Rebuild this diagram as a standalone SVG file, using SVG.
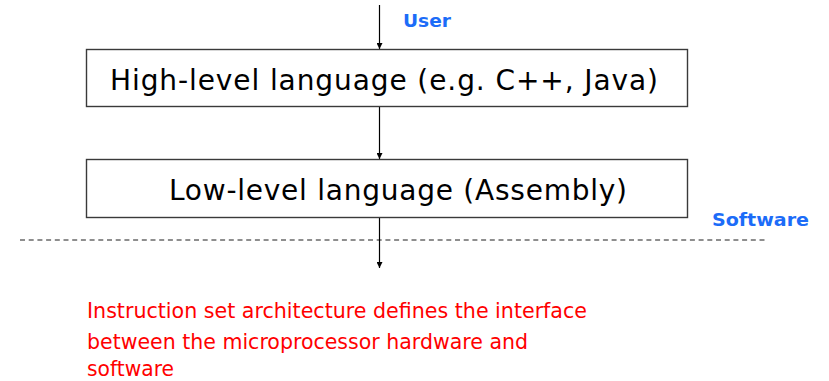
<svg xmlns="http://www.w3.org/2000/svg" width="829" height="381" viewBox="0 0 829 381">
  <style>
    .box { fill: #ffffff; stroke: #3a3a3a; stroke-width: 1.4; }
    .boxlabel { font-family: "DejaVu Sans", Verdana, sans-serif; font-size: 28px; fill: #000000; }
    .tag { font-family: "DejaVu Sans", Verdana, sans-serif; font-size: 18.5px; font-weight: bold; fill: #1c6cf8; }
    .note { font-family: "DejaVu Sans", Verdana, sans-serif; font-size: 21px; fill: #ff0000; }
    .wire { stroke: #000000; stroke-width: 1.2; fill: none; marker-end: url(#arrow); }
    .divider { stroke: #6a6a6a; stroke-width: 1.5; stroke-dasharray: 5 3.7; }
  </style>
  <defs>
    <marker id="arrow" viewBox="0 0 8 8" refX="8" refY="4" markerWidth="6" markerHeight="6" markerUnits="userSpaceOnUse" orient="auto">
      <path d="M0,0 L8,4 L0,8 Z" fill="#000000"/>
    </marker>
  </defs>

  <rect width="829" height="381" fill="#ffffff"/>

  <!-- software / hardware boundary -->
  <line class="divider" x1="20" y1="240" x2="768" y2="240"/>

  <g id="connectors">
    <line class="wire" x1="379.5" y1="5" x2="379.5" y2="49"/>
    <line class="wire" x1="379.5" y1="107" x2="379.5" y2="159"/>
    <line class="wire" x1="379.5" y1="218" x2="379.5" y2="268"/>
  </g>

  <g id="high-level">
    <rect class="box" x="86.5" y="49.5" width="601" height="57"/>
    <text class="boxlabel" x="110" y="90" textLength="548" lengthAdjust="spacing">High-level language (e.g. C++, Java)</text>
  </g>

  <g id="low-level">
    <rect class="box" x="86.5" y="159.5" width="601" height="58"/>
    <text class="boxlabel" x="169" y="200" textLength="458" lengthAdjust="spacing">Low-level language (Assembly)</text>
  </g>

  <g id="label-user">
    <text class="tag" x="403" y="27" textLength="48" lengthAdjust="spacingAndGlyphs">User</text>
  </g>

  <g id="label-software">
    <text class="tag" x="712" y="226" textLength="97" lengthAdjust="spacingAndGlyphs">Software</text>
  </g>

  <g id="isa-note">
    <text class="note" x="87" y="318" textLength="500" lengthAdjust="spacingAndGlyphs">Instruction set architecture defines the interface</text>
    <text class="note" x="87" y="349" textLength="441" lengthAdjust="spacingAndGlyphs">between the microprocessor hardware and</text>
    <text class="note" x="87" y="376" textLength="87" lengthAdjust="spacingAndGlyphs">software</text>
  </g>
</svg>
